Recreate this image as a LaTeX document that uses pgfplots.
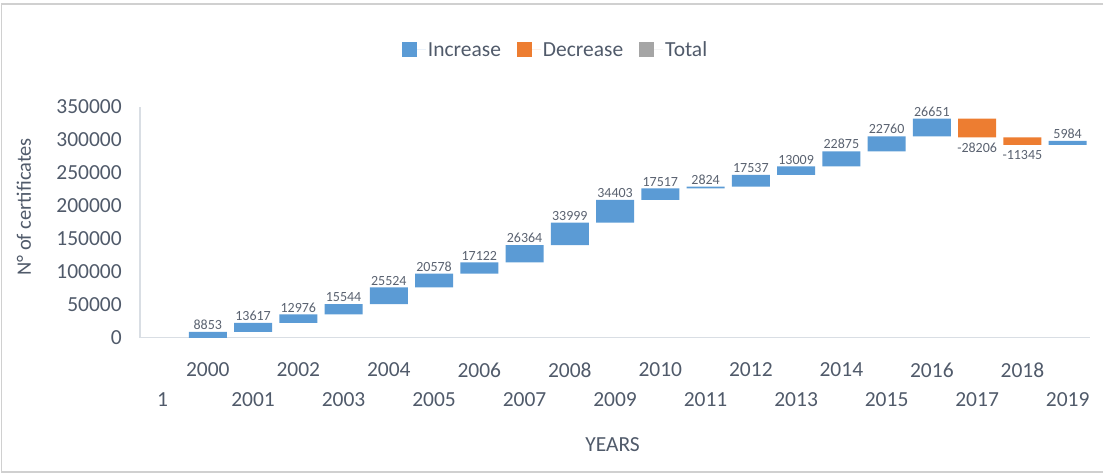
\documentclass[border=0pt]{standalone}
\usepackage{pgfplots}
\pgfplotsset{compat=1.18}
\usepackage{pgfplotstable}
\usepackage{fontspec}
\setmainfont{Carlito}
\definecolor{incblue}{HTML}{5B9BD5}
\definecolor{decorange}{HTML}{ED7D31}
\definecolor{totgray}{HTML}{A5A5A5}
\definecolor{txt}{HTML}{505A6A}
\definecolor{lbltxt}{HTML}{5A6270}
\definecolor{axisc}{HTML}{D9DEE4}
\definecolor{framec}{HTML}{D0D0D0}
\newcommand\mainfs{\fontsize{21.5bp}{25bp}\selectfont}
\newcommand\ylfs{\fontsize{20.5bp}{24bp}\selectfont}
\newcommand\smallfs{\fontsize{14bp}{16bp}\selectfont}
\pgfplotsset{sq legend/.style={legend image code/.code={\path (0bp,0bp) -- (24bp,0bp);\fill[##1] (0bp,-7.5bp) rectangle (15bp,7.5bp);}}}

% waterfall: invisible base, increase, decrease
\pgfplotstableread{
x base inc dec
0 0 0 0
1 0 8853 0
2 8853 13617 0
3 22470 12976 0
4 35446 15544 0
5 50990 25524 0
6 76514 20578 0
7 97092 17122 0
8 114214 26364 0
9 140578 33999 0
10 174577 34403 0
11 208980 17517 0
12 226497 2824 0
13 229321 17537 0
14 246858 13009 0
15 259867 22875 0
16 282742 22760 0
17 305502 26651 0
18 303947 0 28206
19 292602 0 11345
20 292602 5984 0
}\wf

\pgfplotstableread{
x y label
1 8853 8853
2 22470 13617
3 35446 12976
4 50990 15544
5 76514 25524
6 97092 20578
7 114214 17122
8 140578 26364
9 174577 33999
10 208980 34403
11 226497 17517
12 229321 2824
13 246858 17537
14 259867 13009
15 282742 22875
16 305502 22760
17 332153 26651
20 298586 5984
}\inclabels

\pgfplotstableread{
x y label
18 303947 -28206
19 292602 -11345
}\declabels

\begin{document}
\begin{tikzpicture}
\path (0bp,0bp) rectangle (1104bp,475bp);
\draw[framec, line width=1.5bp] (1104bp,471bp) -- (1.5bp,471bp) -- (1.5bp,2.5bp) -- (1104bp,2.5bp);
\begin{axis}[
  at={(140bp,137bp)}, anchor=south west,
  scale only axis, width=951bp, height=231bp,
  xmin=-0.5, xmax=20.5, ymin=0, ymax=350000,
  ybar stacked, bar width=38bp,
  axis x line*=bottom, axis y line*=left,
  axis line style={axisc, line width=1.2bp},
  major tick length=0pt,
  scaled y ticks=false,
  ytick={0,50000,100000,150000,200000,250000,300000,350000},
  yticklabels={0,50000,100000,150000,200000,250000,300000,350000},
  yticklabel style={font=\mainfs, text=txt, inner sep=0pt, anchor=east, xshift=-18bp},
  xtick={1,3,5,7,9,11,13,15,17,19},
  xticklabels={2000,2002,2004,2006,2008,2010,2012,2014,2016,2018},
  xticklabel style={font=\mainfs, text=txt, inner sep=0pt, anchor=north, yshift=-25bp},
  extra x ticks={0,2,4,6,8,10,12,14,16,18,20},
  extra x tick labels={1,2001,2003,2005,2007,2009,2011,2013,2015,2017,2019},
  extra x tick style={tick label style={yshift=-30bp}},
  ylabel={N° of certificates},
  ylabel style={font=\ylfs, text=txt, at={(axis description cs:-0.122,0.567)}, anchor=center},
  xlabel={YEARS},
  xlabel style={font=\mainfs, text=txt, at={(axis description cs:0.4974,-0.463)}, anchor=center},
  legend style={at={(0.4374,1.247)}, anchor=center, legend columns=-1, draw=none, fill=none,
    font=\mainfs, text=txt, /tikz/every even column/.append style={column sep=14bp}},
  clip=false,
]
\addplot[fill=none, draw=none, forget plot] table[x=x, y=base] {\wf};
\addplot[fill=incblue, draw=none, sq legend] table[x=x, y=inc] {\wf};
\addlegendentry{Increase}
\addplot[fill=decorange, draw=none, sq legend] table[x=x, y=dec] {\wf};
\addlegendentry{Decrease}
\addlegendimage{fill=totgray, draw=none, sq legend}
\addlegendentry{Total}
\end{axis}
\begin{axis}[
  at={(140bp,137bp)}, anchor=south west,
  scale only axis, width=951bp, height=231bp,
  xmin=-0.5, xmax=20.5, ymin=0, ymax=350000,
  hide axis, clip=false,
]
\addplot[draw=none, mark=none, nodes near coords, point meta=explicit symbolic,
  nodes near coords style={font=\smallfs, text=lbltxt, inner sep=0pt, anchor=south, yshift=2bp}]
  table[x=x, y=y, meta=label] {\inclabels};
\addplot[draw=none, mark=none, nodes near coords, point meta=explicit symbolic,
  nodes near coords style={font=\smallfs, text=lbltxt, inner sep=0pt, anchor=north, yshift=-5bp}]
  table[x=x, y=y, meta=label] {\declabels};
\end{axis}
\end{tikzpicture}
\end{document}
